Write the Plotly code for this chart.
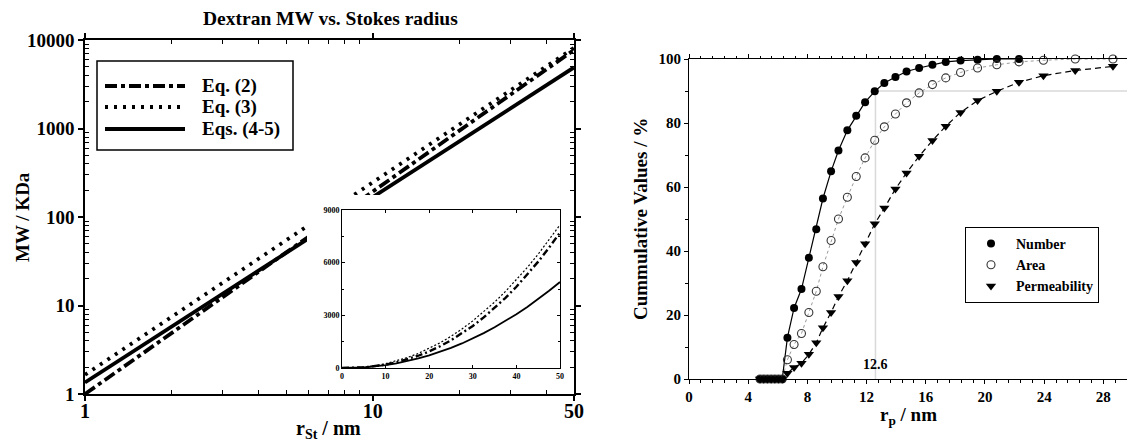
import math
import plotly.graph_objects as go

WIN_W, WIN_H = 1135, 445
BODY_MARGIN = 8            # default page margin around the figure
W, H = WIN_W - BODY_MARGIN, WIN_H - BODY_MARGIN
FONT = "Liberation Serif"

# ---------------- data: left chart (Dextran MW vs. Stokes radius) ----------------
r_st_nm = [0, 1, 1.5, 2, 3, 4, 5, 6, 8, 10, 12.5, 15, 17.5, 20, 22.5, 25, 27.5, 30,
           32.5, 35, 37.5, 40, 42.5, 45, 47.5, 50]
mw_eq2 = [0, 1.0, 2.53, 4.88, 12.35, 23.9, 39.7, 60.3, 116.5, 194.1, 323.5, 490.9, 698.5,
          948, 1240, 1580, 1965, 2398, 2880, 3412, 3995, 4627, 5314, 6058, 6856, 7713]
mw_eq3 = [0, 1.65, 3.98, 7.45, 17.98, 33.6, 54.6, 81.1, 151.6, 246.3, 400.2, 595, 831,
          1112, 1436, 1806, 2219, 2685, 3194, 3752, 4361, 5018, 5726, 6484, 7293, 8151]
mw_eq45 = [0, 1.35, 3.16, 5.77, 13.49, 24.6, 39.3, 57.6, 105.3, 168.0, 268.1, 392.9, 542.7,
           717.8, 918.9, 1146, 1399, 1679, 1985, 2318, 2679, 3066, 3481, 3928, 4398, 4897]
eq_names = ["Eq. (2)", "Eq. (3)", "Eqs. (4-5)"]

main_x_ticks = [1, 10, 50]
main_x_minor = [2, 3, 4, 5, 6, 7, 8, 9, 20, 30, 40]
main_y_ticks = [1, 10, 100, 1000, 10000]
main_y_minor = [2, 3, 4, 5, 6, 7, 8, 9, 20, 30, 40, 50, 60, 70, 80, 90,
                200, 300, 400, 500, 600, 700, 800, 900, 2000, 3000, 4000, 5000, 6000, 7000, 8000, 9000]
inset_y_ticks = [0, 3000, 6000, 9000]

# ---------------- data: right chart (cumulative distributions) ----------------
rp_nm = [4.8, 5.05, 5.3, 5.55, 5.8, 6.05, 6.3, 6.65, 7.1, 7.6, 8.1, 8.6, 9.05, 9.6, 10.1,
         10.7, 11.3, 11.9, 12.55, 13.2, 13.95, 14.7, 15.55, 16.45, 17.35, 18.35, 19.5,
         20.8, 22.3, 23.95, 26.1, 28.65]
cum_number = [0, 0, 0, 0, 0, 0, 0, 12.9, 22.2, 28.1, 37.9, 46.8, 56.4, 64.9, 71.4, 77.7,
              82.3, 86.5, 89.9, 92.5, 94.4, 96.1, 97.2, 98.2, 99.1, 99.5, 99.8, 100, 100,
              None, None, None]
cum_area = [0, 0, 0, 0, 0, 0, 0, 6.0, 10.8, 14.2, 20.8, 27.4, 35.1, 43.3, 50.0, 56.8,
            63.3, 69.1, 74.6, 78.8, 82.8, 86.3, 89.4, 92.0, 94.1, 95.8, 97.2, 98.2, 99.1,
            99.6, 100, 100]
cum_perm = [0, 0, 0, 0, 0, 0, 0, 1.8, 3.6, 4.9, 7.7, 11.3, 16.0, 20.8, 25.8, 30.7,
            36.4, 42.3, 48.5, 53.4, 59.4, 64.4, 69.6, 74.5, 79.0, 83.3, 87.0, 89.9, 92.7,
            94.8, 96.4, 97.7]
dist_names = ["Number", "Area", "Permeability"]
r90_nm = 12.6          # radius at 90 % of the permeability-based distribution
level90 = 90

# ---------------- layout geometry (window pixels) ----------------
def fx(px):
    return (px - BODY_MARGIN) / W


def fy(py):
    return 1 - (py - BODY_MARGIN) / H


MAIN = dict(l=85, r=574, t=40, b=394)
INSET = dict(l=342, r=560, t=210, b=368)
RIGHT = dict(l=689, r=1130, t=59, b=379)
COVER = dict(l=307, t=195)   # white area behind the inset (incl. its labels)

main_xr = [0, math.log10(50)]
main_yr = [0, 4]


def bold(size):
    return dict(family=FONT, size=size, color="black", weight="bold")


fig = go.Figure()

# ---- main log-log chart ----
styles = [
    dict(dash="12px,4px,4px,4px", width=3.8),
    dict(dash="3px,6px", width=3.8),
    dict(dash="solid", width=3.8),
]
for name, ys, st in zip(eq_names, [mw_eq2, mw_eq3, mw_eq45], styles):
    fig.add_trace(go.Scatter(x=r_st_nm[1:], y=ys[1:], mode="lines", name=name,
                             line=dict(color="black", **st), showlegend=False,
                             xaxis="x", yaxis="y"))

# white area behind the inset, in main-axis data units derived from the pixel layout
cx = 10 ** ((COVER["l"] - MAIN["l"]) / (MAIN["r"] - MAIN["l"]) * main_xr[1])
cy = 10 ** ((MAIN["b"] - COVER["t"]) / (MAIN["b"] - MAIN["t"]) * main_yr[1])
xmax = 10 ** main_xr[1]
fig.add_trace(go.Scatter(x=[cx, cx, xmax, xmax, cx], y=[1, cy, cy, 1, 1], mode="lines",
                         fill="toself", fillcolor="white", line=dict(width=0, color="white"),
                         hoverinfo="skip", showlegend=False, xaxis="x", yaxis="y"))

# ---- inset (linear) ----
inset_styles = [
    dict(dash="7px,3px,2px,3px", width=2.4),
    dict(dash="2px,2px", width=1.2),
    dict(dash="solid", width=1.8),
]
for name, ys, st in zip(eq_names, [mw_eq2, mw_eq3, mw_eq45], inset_styles):
    fig.add_trace(go.Scatter(x=r_st_nm, y=ys, mode="lines", name=name,
                             line=dict(color="black", **st), showlegend=False,
                             xaxis="x2", yaxis="y2"))

# ---- right chart ----
fig.add_trace(go.Scatter(x=rp_nm, y=cum_number, mode="lines", showlegend=False,
                         line=dict(color="black", width=1.2), xaxis="x3", yaxis="y3",
                         cliponaxis=False))
fig.add_trace(go.Scatter(x=rp_nm, y=cum_area, mode="lines", showlegend=False,
                         line=dict(color="#9a9a9a", width=1, dash="dot"), xaxis="x3", yaxis="y3",
                         cliponaxis=False))
fig.add_trace(go.Scatter(x=rp_nm, y=cum_perm, mode="lines", showlegend=False,
                         line=dict(color="black", width=1.2, dash="6px,4px"), xaxis="x3", yaxis="y3",
                         cliponaxis=False))
marker_styles = [
    dict(symbol="circle", size=8, color="black"),
    dict(symbol="circle-open", size=8, color="#333333", line=dict(width=1.1)),
    dict(symbol="triangle-down", size=9, color="black"),
]
for name, ys, mk in zip(dist_names, [cum_number, cum_area, cum_perm], marker_styles):
    fig.add_trace(go.Scatter(x=rp_nm, y=ys, mode="markers", name=name, marker=mk,
                             xaxis="x3", yaxis="y3", cliponaxis=False, legend="legend"))

# reference lines at 90 %
shapes = [
    dict(type="line", xref="x3", yref="y3", x0=r90_nm, x1=30, y0=level90, y1=level90,
         line=dict(color="#d9d9d9", width=1.5), layer="below"),
    dict(type="line", xref="x3", yref="y3", x0=r90_nm, x1=r90_nm, y0=0, y1=level90,
         line=dict(color="#d9d9d9", width=1.5), layer="below"),
]

# manual legend for the left chart
LEG = dict(l=97, r=293, t=61, b=150)
shapes.append(dict(type="rect", xref="paper", yref="paper", x0=fx(LEG["l"]), x1=fx(LEG["r"]),
                   y0=fy(LEG["b"]), y1=fy(LEG["t"]), line=dict(color="black", width=1.5),
                   fillcolor="white", layer="above"))
leg_rows = [86, 107, 129]
annotations = []
for name, st, row in zip(eq_names, styles, leg_rows):
    shapes.append(dict(type="line", xref="paper", yref="paper", x0=fx(105), x1=fx(185),
                       y0=fy(row), y1=fy(row),
                       line=dict(color="black", width=st["width"], dash=st["dash"]),
                       layer="above"))
    annotations.append(dict(text=name, xref="paper", yref="paper", x=fx(200), y=fy(row),
                            xanchor="left", yanchor="middle", showarrow=False, font=bold(19)))

annotations += [
    dict(text="Dextran MW vs. Stokes radius", xref="paper", yref="paper", x=fx(330), y=fy(18),
         xanchor="center", yanchor="middle", showarrow=False, font=bold(19.5)),
    dict(text="MW / KDa", xref="paper", yref="paper", x=fx(22), y=fy(217), textangle=-90,
         xanchor="center", yanchor="middle", showarrow=False, font=bold(19)),
    dict(text="r<sub>St</sub> / nm", xref="paper", yref="paper", x=fx(328), y=fy(429),
         xanchor="center", yanchor="middle", showarrow=False, font=bold(20)),
    dict(text="Cummulative Values / %", xref="paper", yref="paper", x=fx(640), y=fy(219),
         textangle=-90, xanchor="center", yanchor="middle", showarrow=False, font=bold(19)),
    dict(text="r<sub>p</sub> / nm", xref="paper", yref="paper", x=fx(908), y=fy(416),
         xanchor="center", yanchor="middle", showarrow=False, font=bold(19)),
    dict(text=str(r90_nm), xref="x3", yref="y3", x=r90_nm, y=4.5, xanchor="center",
         yanchor="middle", showarrow=False, font=bold(14)),
]

axis_common = dict(showline=True, linecolor="black", mirror="allticks", showgrid=False,
                   zeroline=False, tickcolor="black", automargin=False)

fig.update_layout(
    template="none",
    width=W, height=H, autosize=False,
    margin=dict(l=0, r=0, t=0, b=0, pad=0),
    paper_bgcolor="white", plot_bgcolor="white",
    shapes=shapes, annotations=annotations,
    xaxis=dict(type="log", range=main_xr, domain=[fx(MAIN["l"]), fx(MAIN["r"])],
               anchor="y", tickvals=main_x_ticks, ticktext=[str(v) for v in main_x_ticks],
               ticks="outside", ticklen=5, tickwidth=1.5, linewidth=1.5,
               ticklabelstandoff=-7,
               minor=dict(tickvals=main_x_minor, ticks="inside", ticklen=4, tickwidth=1,
                          tickcolor="black"),
               tickfont=bold(20), **axis_common),
    yaxis=dict(type="log", range=main_yr, domain=[fy(MAIN["b"]), fy(MAIN["t"])],
               anchor="x", tickvals=main_y_ticks, ticktext=[str(v) for v in main_y_ticks],
               ticks="outside", ticklen=5, tickwidth=1.5, linewidth=1.5,
               minor=dict(tickvals=main_y_minor, ticks="inside", ticklen=4, tickwidth=1,
                          tickcolor="black"),
               tickfont=bold(19), **axis_common),
    xaxis2=dict(range=[0, 50], domain=[fx(INSET["l"]), fx(INSET["r"])], anchor="y2",
                dtick=10, tick0=0, ticks="inside", ticklen=3, linewidth=1,
                tickfont=bold(8), **axis_common),
    yaxis2=dict(range=[0, 9000], domain=[fy(INSET["b"]), fy(INSET["t"])], anchor="x2",
                tickvals=inset_y_ticks, ticks="inside", ticklen=3, linewidth=1,
                minor=dict(dtick=1500, ticks="inside", ticklen=2, tickcolor="black"),
                tickfont=bold(8), **axis_common),
    xaxis3=dict(range=[0, 29.8], domain=[fx(RIGHT["l"]), fx(RIGHT["r"])], anchor="y3",
                dtick=4, tick0=0, ticks="outside", ticklen=4, linewidth=1,
                minor=dict(dtick=0.8, tick0=0, ticks="outside", ticklen=2.5, tickcolor="black"),
                tickfont=bold(15), **axis_common),
    yaxis3=dict(range=[0, 100], domain=[fy(RIGHT["b"]), fy(RIGHT["t"])], anchor="x3",
                dtick=20, tick0=0, ticks="outside", ticklen=4, linewidth=1,
                minor=dict(dtick=10, ticks="outside", ticklen=3, tickcolor="black"),
                tickfont=bold(15), **axis_common),
    legend=dict(x=fx(965), y=fy(227), xanchor="left", yanchor="top",
                bordercolor="black", borderwidth=1, bgcolor="white",
                font=bold(14), itemwidth=40, tracegroupgap=0),
    showlegend=True,
)

fig.write_html("out.html")
